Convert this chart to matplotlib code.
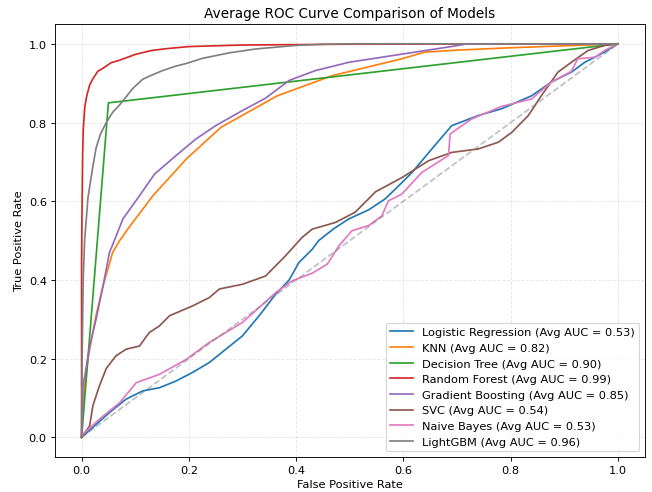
import matplotlib
matplotlib.use("Agg")
import matplotlib.pyplot as plt

# averaged ROC curves (fpr, tpr)
lr_fpr = [0, 0.052, 0.083, 0.114, 0.145, 0.176, 0.207, 0.238, 0.269, 0.30, 0.331, 0.362, 0.387,
          0.405, 0.43, 0.442, 0.47, 0.498, 0.535, 0.566, 0.585, 0.616, 0.653, 0.69, 0.74, 0.783,
          0.839, 0.876, 0.913, 0.938, 0.975, 1.0]
lr_tpr = [0, 0.063, 0.097, 0.118, 0.126, 0.143, 0.165, 0.19, 0.224, 0.258, 0.309, 0.364, 0.400,
          0.444, 0.478, 0.500, 0.53, 0.555, 0.578, 0.606, 0.631, 0.673, 0.733, 0.792, 0.818, 0.835,
          0.868, 0.903, 0.928, 0.953, 0.979, 1.0]

knn_fpr = [0, 0.005, 0.012, 0.02, 0.027, 0.04, 0.058, 0.071, 0.086, 0.133, 0.195, 0.26, 0.365,
           0.467, 0.597, 0.64, 0.7, 0.8, 0.9, 1.0]
knn_tpr = [0, 0.12, 0.2, 0.26, 0.31, 0.385, 0.47, 0.50, 0.529, 0.614, 0.707, 0.788, 0.868,
           0.919, 0.962, 0.979, 0.984, 0.990, 0.995, 1.0]

dt_fpr = [0, 0.05, 1.0]
dt_tpr = [0, 0.85, 1.0]

rf_fpr = [0, 0, 0.001, 0.002, 0.003, 0.006, 0.01, 0.015, 0.021, 0.03, 0.04, 0.055, 0.07, 0.1,
          0.13, 0.16, 0.2, 0.3, 0.5, 1.0]
rf_tpr = [0, 0.45, 0.6, 0.72, 0.78, 0.84, 0.87, 0.895, 0.911, 0.93, 0.938, 0.952, 0.958, 0.973,
          0.983, 0.988, 0.993, 0.997, 0.999, 1.0]

gb_fpr = [0, 0.0025, 0.006, 0.015, 0.027, 0.04, 0.052, 0.064, 0.077, 0.108, 0.136, 0.176, 0.213,
          0.25, 0.294, 0.343, 0.387, 0.436, 0.498, 0.56, 0.622, 0.684, 0.72, 1.0]
gb_tpr = [0, 0.13, 0.156, 0.232, 0.30, 0.385, 0.47, 0.51, 0.555, 0.614, 0.669, 0.716, 0.758,
          0.792, 0.826, 0.862, 0.907, 0.932, 0.953, 0.966, 0.979, 0.992, 1.0, 1.0]

svc_fpr = [0, 0.015, 0.021, 0.033, 0.046, 0.064, 0.083, 0.108, 0.126, 0.145, 0.164, 0.207, 0.238,
           0.257, 0.30, 0.343, 0.38, 0.411, 0.43, 0.473, 0.51, 0.548, 0.597, 0.647, 0.69, 0.74,
           0.777, 0.802, 0.833, 0.857, 0.888, 0.913, 0.944, 0.975, 1.0]
svc_tpr = [0, 0.029, 0.08, 0.13, 0.175, 0.207, 0.224, 0.232, 0.266, 0.283, 0.309, 0.334, 0.355,
           0.377, 0.389, 0.41, 0.461, 0.508, 0.529, 0.546, 0.572, 0.624, 0.66, 0.703, 0.724, 0.733,
           0.75, 0.775, 0.818, 0.868, 0.928, 0.953, 0.983, 0.996, 1.0]

nb_fpr = [0, 0.033, 0.071, 0.102, 0.145, 0.195, 0.238, 0.30, 0.362, 0.393, 0.43, 0.458, 0.48,
          0.504, 0.535, 0.56, 0.572, 0.597, 0.634, 0.684, 0.687, 0.727, 0.783, 0.839, 0.876,
          0.913, 0.925, 0.957, 0.975, 1.0]
nb_tpr = [0.005, 0.046, 0.088, 0.139, 0.16, 0.198, 0.241, 0.292, 0.368, 0.398, 0.417, 0.44, 0.487,
          0.525, 0.538, 0.563, 0.601, 0.618, 0.673, 0.716, 0.771, 0.809, 0.841, 0.86, 0.903,
          0.93, 0.962, 0.966, 0.983, 1.0]

lgbm_fpr = [0, 0.001, 0.003, 0.0056, 0.012, 0.02, 0.027, 0.035, 0.046, 0.058, 0.071, 0.08, 0.095,
            0.114, 0.13, 0.151, 0.175, 0.195, 0.225, 0.25, 0.275, 0.30, 0.325, 0.35, 0.40, 0.45,
            0.5, 1.0]
lgbm_tpr = [0, 0.2, 0.4, 0.5, 0.61, 0.68, 0.735, 0.77, 0.80, 0.826, 0.845, 0.86, 0.886, 0.910,
            0.92, 0.932, 0.943, 0.950, 0.963, 0.970, 0.977, 0.982, 0.987, 0.990, 0.996, 0.999,
            1.0, 1.0]

model_names = ["Logistic Regression", "KNN", "Decision Tree", "Random Forest",
               "Gradient Boosting", "SVC", "Naive Bayes", "LightGBM"]
avg_auc = [0.53, 0.82, 0.90, 0.99, 0.85, 0.54, 0.53, 0.96]

curves = [(lr_fpr, lr_tpr), (knn_fpr, knn_tpr), (dt_fpr, dt_tpr), (rf_fpr, rf_tpr),
          (gb_fpr, gb_tpr), (svc_fpr, svc_tpr), (nb_fpr, nb_tpr), (lgbm_fpr, lgbm_tpr)]

fig = plt.figure(figsize=(8, 6.049), dpi=81.5)

for (fpr, tpr), name, auc in zip(curves, model_names, avg_auc):
    plt.plot(fpr, tpr, label=f"{name} (Avg AUC = {auc:.2f})")

plt.plot([0, 1], [0, 1], linestyle='--', color='gray', alpha=0.5)

plt.xlabel("False Positive Rate")
plt.ylabel("True Positive Rate")
plt.title("Average ROC Curve Comparison of Models")
plt.legend(loc="lower right")
plt.grid(True, linestyle='--', alpha=0.3)

plt.subplots_adjust(left=0.084, right=0.989, bottom=0.071, top=0.949)
plt.savefig("out.png", dpi=81.5)
